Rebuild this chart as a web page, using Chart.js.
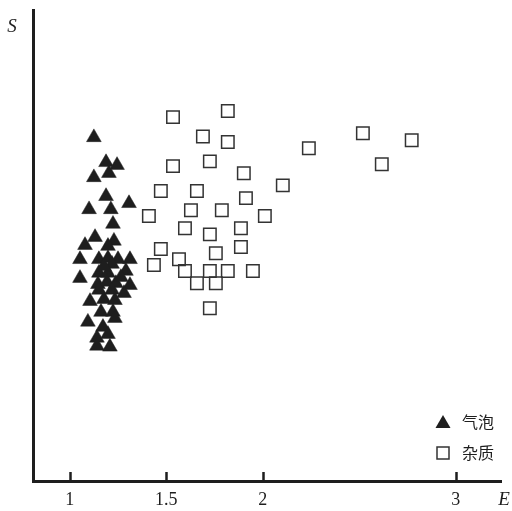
<!DOCTYPE html>
<html>
<head>
<meta charset="utf-8">
<script src="https://cdn.jsdelivr.net/npm/chart.js@4/dist/chart.umd.min.js"></script>
<style>
html,body{margin:0;padding:0;background:#fff;}
#wrap{width:512px;height:511px;position:relative;}
</style>
</head>
<body>
<div id="wrap"><canvas id="c" width="512" height="511"></canvas></div>
<script>
// Data (E on x, S on y in arbitrary units)
const seriesNames = ['气泡', '杂质'];
const bubbleE = [1.125,1.188,1.245,1.125,1.203,1.188,1.100,1.213,1.307,1.224,1.131,1.229,1.079,1.198,1.053,1.151,1.198,1.250,1.312,1.219,1.053,1.151,1.198,1.291,1.146,1.193,1.239,1.312,1.151,1.219,1.281,1.105,1.177,1.234,1.162,1.224,1.234,1.094,1.172,1.141,1.198,1.141,1.208,1.177,1.265];
const bubbleS = [73.0,67.7,67.1,64.5,65.4,60.5,57.7,57.7,59.0,54.6,51.8,51.0,50.1,49.9,47.1,47.1,47.3,47.1,47.1,46.1,43.1,44.2,44.2,44.6,41.8,42.3,42.0,41.6,40.6,40.6,39.9,38.2,38.6,38.4,35.9,35.9,34.6,33.8,32.7,30.4,31.2,28.7,28.5,45.6,43.3];
const impurityE = [1.535,1.819,1.690,1.819,2.519,2.772,2.239,1.726,1.535,1.902,2.617,1.472,1.659,2.104,1.913,1.410,1.628,1.788,2.011,1.597,1.887,1.726,1.472,1.757,1.887,1.436,1.566,1.597,1.726,1.819,1.949,1.659,1.757,1.726];
const impurityS = [77.3,78.6,73.2,72.0,73.9,72.4,70.7,67.9,66.9,65.4,67.3,61.6,61.6,62.8,60.1,56.3,57.5,57.5,56.3,53.7,53.7,52.4,49.3,48.4,49.7,45.9,47.1,44.6,44.6,44.6,44.6,42.0,42.0,36.7];
const xTickValues = [1, 1.5, 2, 3];
const xTickLabels = ['1', '1.5', '2', '3'];
const xTitle = 'E';
const yTitle = 'S';

const toPts = (xs, ys) => xs.map((x, i) => ({x: x, y: ys[i]}));
const ink = '#1e1e1e';

const decor = {
  id: 'decor',
  afterDraw(chart) {
    const ctx = chart.ctx;
    const xs = chart.scales.x;
    const ca = chart.chartArea;
    ctx.save();
    // inward tick marks
    ctx.strokeStyle = ink;
    ctx.lineWidth = 2.5;
    xTickValues.forEach(v => {
      const px = Math.round(xs.getPixelForValue(v)) + 0.5;
      ctx.beginPath();
      ctx.moveTo(px, ca.bottom);
      ctx.lineTo(px, ca.bottom - 9);
      ctx.stroke();
    });
    // axis titles
    ctx.fillStyle = ink;
    ctx.font = 'italic 19px "Liberation Serif", "DejaVu Serif", serif';
    ctx.textAlign = 'center';
    ctx.textBaseline = 'middle';
    ctx.fillText(yTitle, 12, 27);
    ctx.fillText(xTitle, 504, 500);
    // legend
    const lx = 443;
    const rows = [422, 453];
    // triangle
    ctx.fillStyle = ink;
    ctx.beginPath();
    ctx.moveTo(lx, rows[0] - 7);
    ctx.lineTo(lx + 7.5, rows[0] + 6);
    ctx.lineTo(lx - 7.5, rows[0] + 6);
    ctx.closePath();
    ctx.fill();
    // square
    ctx.strokeStyle = '#333';
    ctx.lineWidth = 1.5;
    ctx.strokeRect(lx - 6, rows[1] - 6, 12, 12);
    ctx.fillStyle = ink;
    ctx.font = '16px "Noto Sans CJK SC", sans-serif';
    ctx.textAlign = 'left';
    ctx.fillText(seriesNames[0], 462, rows[0]);
    ctx.fillText(seriesNames[1], 462, rows[1]);
    ctx.restore();
  }
};

new Chart(document.getElementById('c'), {
  type: 'scatter',
  data: {
    datasets: [
      {
        label: seriesNames[0],
        data: toPts(bubbleE, bubbleS),
        pointStyle: 'triangle',
        pointRadius: 8.5,
        backgroundColor: ink,
        borderColor: ink,
        borderWidth: 0.5
      },
      {
        label: seriesNames[1],
        data: toPts(impurityE, impurityS),
        pointStyle: 'rect',
        pointRadius: 8.8,
        backgroundColor: 'rgba(0,0,0,0)',
        borderColor: '#333',
        borderWidth: 1.5
      }
    ]
  },
  options: {
    responsive: false,
    animation: false,
    events: [],
    clip: false,
    layout: {padding: {top: 9, right: 10, left: 0, bottom: 0}},
    plugins: {legend: {display: false}, tooltip: {enabled: false}},
    scales: {
      x: {
        type: 'linear',
        min: 0.8095,
        max: 3.2384,
        afterFit: s => { s.height = 30; },
        afterBuildTicks: s => { s.ticks = xTickValues.map(v => ({value: v})); },
        grid: {display: false, drawTicks: false},
        border: {display: true, color: ink, width: 3},
        ticks: {
          autoSkip: false,
          maxRotation: 0,
          padding: 8,
          color: ink,
          font: {family: '"Liberation Serif", "DejaVu Serif", serif', size: 18},
          callback: (v, i) => xTickLabels[i]
        }
      },
      y: {
        type: 'linear',
        min: 0,
        max: 100,
        afterFit: s => { s.width = 33; },
        grid: {display: false, drawTicks: false},
        border: {display: true, color: ink, width: 3},
        ticks: {display: false}
      }
    }
  },
  plugins: [decor]
});
</script>
</body>
</html>
